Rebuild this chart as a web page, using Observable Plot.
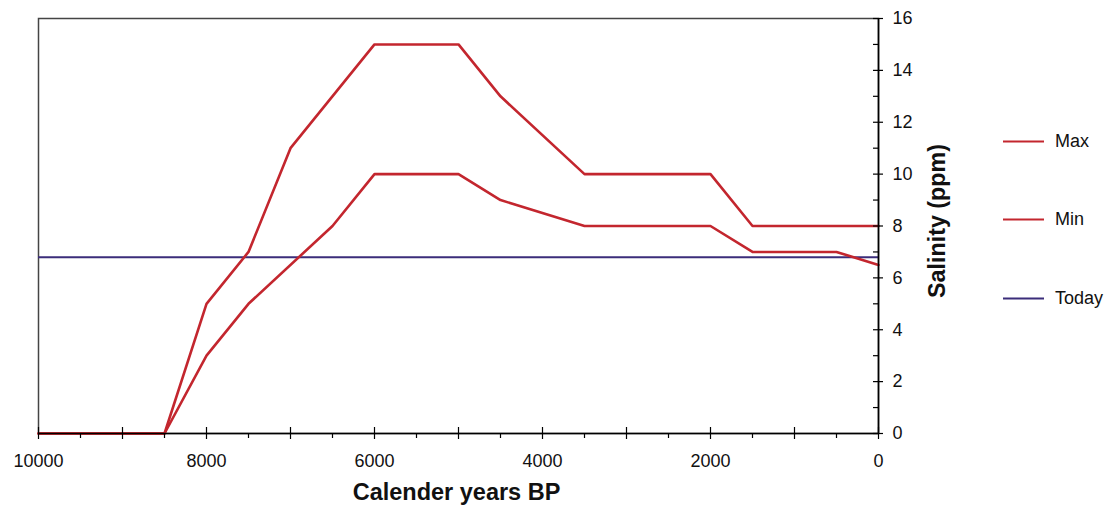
<!DOCTYPE html>
<html>
<head>
<meta charset="utf-8">
<script src="https://cdn.jsdelivr.net/npm/d3@7"></script>
<script src="https://cdn.jsdelivr.net/npm/@observablehq/plot@0.6"></script>
<style>
  html, body { margin: 0; padding: 0; background: #fff; }
  body { font-family: "Liberation Sans", Arial, sans-serif; }
  #wrap { position: relative; width: 1110px; height: 506px; }
  .legend { position: absolute; left: 1003px; top: 0; font-size: 18px; color: #111; }
  .item { position: absolute; left: 0; display: flex; align-items: center; white-space: nowrap; transform: translateY(-50%); }
  .swatch { width: 41px; margin-right: 11px; }
</style>
</head>
<body>
<div id="wrap"></div>
<script>
// Salinity reconstruction, calendar years before present
const maxYears    = [10000, 8500, 8000, 7500, 7000, 6000, 5000, 4500, 3500, 2000, 1500, 0];
const maxSalinity = [0, 0, 5, 7, 11, 15, 15, 13, 10, 10, 8, 8];
const minYears    = [10000, 8500, 8000, 7500, 6500, 6000, 5000, 4500, 3500, 2000, 1500, 500, 0];
const minSalinity = [0, 0, 3, 5, 8, 10, 10, 9, 8, 8, 7, 7, 6.5];
const todaySalinity = 6.8;

// Axis ticks
const xLabelTicks = [10000, 8000, 6000, 4000, 2000, 0];
const xMajorTicks = [10000, 9000, 8000, 7000, 6000, 5000, 4000, 3000, 2000, 1000, 0];
const xMinorTicks = [9500, 8500, 7500, 6500, 5500, 4500, 3500, 2500, 1500, 500];
const yMajorTicks = [0, 2, 4, 6, 8, 10, 12, 14, 16];
const yMinorTicks = [1, 3, 5, 7, 9, 11, 13, 15];

const seriesNames = ["Max", "Min", "Today"];
const seriesColors = ["#c3262e", "#c3262e", "#3b2d7a"];

const maxData = maxYears.map((x, i) => ({x, y: maxSalinity[i]}));
const minData = minYears.map((x, i) => ({x, y: minSalinity[i]}));

const chart = Plot.plot({
  width: 1110,
  height: 506,
  marginLeft: 38,
  marginRight: 232,
  marginTop: 18,
  marginBottom: 73,
  style: {fontFamily: "'Liberation Sans', Arial, sans-serif", background: "#fff", color: "#111"},
  x: {type: "linear", domain: [10000, 0], axis: null},
  y: {type: "linear", domain: [0, 16], axis: null},
  marks: [
    // plot frame (top and left edges show)
    Plot.frame({stroke: "#444", strokeWidth: 1.5}),
    // data lines
    Plot.ruleY([todaySalinity], {stroke: seriesColors[2], strokeWidth: 2}),
    Plot.line(minData, {x: "x", y: "y", stroke: seriesColors[1], strokeWidth: 2.6}),
    Plot.line(maxData, {x: "x", y: "y", stroke: seriesColors[0], strokeWidth: 2.6}),
    // x axis line and ticks
    Plot.ruleY([0], {stroke: "#000", strokeWidth: 1.6}),
    Plot.ruleX(xMajorTicks, {x: d => d, y1: 0, y2: 0, insetTop: -6, insetBottom: -6, stroke: "#000", strokeWidth: 1.2}),
    Plot.ruleX(xMinorTicks, {x: d => d, y1: 0, y2: 0, insetTop: 0, insetBottom: -5, stroke: "#000", strokeWidth: 1.2}),
    Plot.text(xLabelTicks, {x: d => d, text: d => String(d), frameAnchor: "bottom", dy: 28, lineAnchor: "middle", fontSize: 18, fill: "#111"}),
    Plot.text(["Calender years BP"], {frameAnchor: "bottom", dx: -2, dy: 59, textAnchor: "middle", lineAnchor: "middle", fontSize: 23.5, fontWeight: "bold", fill: "#111"}),
    // y axis on the right
    Plot.ruleX([0], {stroke: "#000", strokeWidth: 1.6}),
    Plot.ruleY(yMajorTicks, {y: d => d, x1: 0, x2: 0, insetLeft: -5, insetRight: -5, stroke: "#000", strokeWidth: 1.2}),
    Plot.ruleY(yMinorTicks, {y: d => d, x1: 0, x2: 0, insetLeft: -5, insetRight: 0, stroke: "#000", strokeWidth: 1.2}),
    Plot.text(yMajorTicks, {y: d => d, text: d => String(d), frameAnchor: "right", dx: 14, textAnchor: "start", lineAnchor: "middle", fontSize: 18, fill: "#111"}),
    Plot.text(["Salinity (ppm)"], {frameAnchor: "right", dx: 59, dy: -5, rotate: -90, textAnchor: "middle", lineAnchor: "middle", fontSize: 23.3, fontWeight: "bold", fill: "#111"})
  ]
});

const wrap = document.getElementById("wrap");
wrap.appendChild(chart);

// legend in the right margin
const legend = document.createElement("div");
legend.className = "legend";
const legendY = [141, 219, 298];
seriesNames.forEach((name, i) => {
  const item = document.createElement("div");
  item.className = "item";
  item.style.top = legendY[i] + "px";
  const sw = document.createElement("span");
  sw.className = "swatch";
  sw.style.borderTop = (i < 2 ? 2.6 : 2) + "px solid " + seriesColors[i];
  const label = document.createElement("span");
  label.textContent = name;
  item.appendChild(sw);
  item.appendChild(label);
  legend.appendChild(item);
});
wrap.appendChild(legend);
</script>
</body>
</html>
